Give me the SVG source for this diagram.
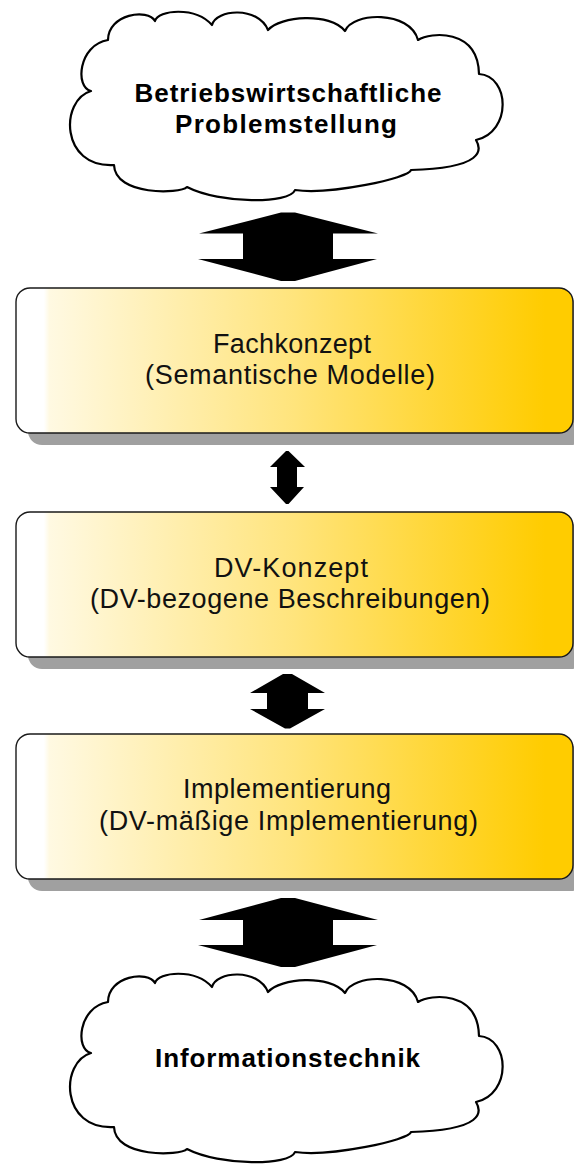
<svg xmlns="http://www.w3.org/2000/svg" xmlns:xlink="http://www.w3.org/1999/xlink" width="574" height="1164" viewBox="0 0 574 1164">
<style>
.cloud{fill:#ffffff;stroke:#000000;stroke-width:2.2;stroke-linejoin:round}
.ctext{font-family:"Liberation Sans",Arial,sans-serif;font-weight:bold;font-size:26px;fill:#000000;text-anchor:middle}
.btext{font-family:"Liberation Sans",Arial,sans-serif;font-size:27px;fill:#111111;text-anchor:middle}
.box{fill:url(#gold);stroke:#1a1a1a;stroke-width:1.4}
.shadow{fill:#a0a0a0}
.arrow{fill:#000000}
</style>
<defs>
<linearGradient id="gold" gradientUnits="userSpaceOnUse" x1="16" y1="0" x2="573" y2="0">
<stop offset="0" stop-color="#ffffff"/>
<stop offset="0.05" stop-color="#ffffff"/>
<stop offset="0.06" stop-color="#fff9e2"/>
<stop offset="0.5" stop-color="#ffe47c"/>
<stop offset="0.95" stop-color="#ffcc00"/>
<stop offset="1" stop-color="#ffcc00"/>
</linearGradient>
<path id="cloudshape" d="M108,40 C108,14 148,8 155,21 C158,10 195,6 212,25 C216,9 258,6 268,30 C280,16 330,12 345,31 C352,12 410,10 418,40 C430,32 478,28 479,74 C510,76 512,132 476,140 C482,150 484,168 411,170 C410,178 330,195 295,190 C290,204 220,204 187,187 C180,194 115,196 114,165 C60,168 60,100 91,91 C75,88 78,45 108,40 Z"/>
</defs>

<g id="cloud-top">
<use xlink:href="#cloudshape" href="#cloudshape" class="cloud"/>
<text class="ctext" x="288" y="102" textLength="307" lengthAdjust="spacing">Betriebswirtschaftliche</text>
<text class="ctext" x="286" y="133" textLength="222" lengthAdjust="spacing">Problemstellung</text>
</g>

<g id="fachkonzept">
<rect class="shadow" x="28" y="300" width="557" height="145" rx="14"/>
<rect class="box" x="16" y="288" width="557" height="145" rx="14"/>
<text class="btext" x="292" y="353" textLength="158" lengthAdjust="spacing">Fachkonzept</text>
<text class="btext" x="290" y="384" textLength="290" lengthAdjust="spacing">(Semantische Modelle)</text>
</g>

<g id="dv-konzept">
<rect class="shadow" x="28" y="524" width="557" height="145" rx="14"/>
<rect class="box" x="16" y="512" width="557" height="145" rx="14"/>
<text class="btext" x="291" y="577" textLength="154" lengthAdjust="spacing">DV-Konzept</text>
<text class="btext" x="290" y="608" textLength="400" lengthAdjust="spacing">(DV-bezogene Beschreibungen)</text>
</g>

<g id="implementierung">
<rect class="shadow" x="28" y="746" width="557" height="145" rx="14"/>
<rect class="box" x="16" y="734" width="557" height="145" rx="14"/>
<text class="btext" x="287" y="798" textLength="208" lengthAdjust="spacing">Implementierung</text>
<text class="btext" x="288.5" y="830" textLength="379" lengthAdjust="spacing">(DV-mäßige Implementierung)</text>
</g>

<g id="cloud-bottom">
<use xlink:href="#cloudshape" href="#cloudshape" class="cloud" transform="translate(0,962)"/>
<text class="ctext" x="287.5" y="1067" textLength="265" lengthAdjust="spacing">Informationstechnik</text>
</g>

<g id="connectors">
<polygon class="arrow" points="281,212.5 295,212.5 378,233.5 333,233.5 333,259 377,259 295,281 281,281 198,259 243,259 243,233.5 199,233.5"/>
<polygon class="arrow" points="286,451 288.5,451 305,467 297,467 297,487 304,487 288.5,504 286,504 270,487 277,487 277,467 270,467"/>
<polygon class="arrow" points="283,674 292,674 325,693 308,693 308,709 325,709 290,728.5 285,728.5 250,709 267,709 267,693 250,693"/>
<polygon class="arrow" points="281,898 295,898 378,920 333,920 333,945 377,945 295,967 281,967 198,945 243,945 243,920 199,920"/>
</g>
</svg>
